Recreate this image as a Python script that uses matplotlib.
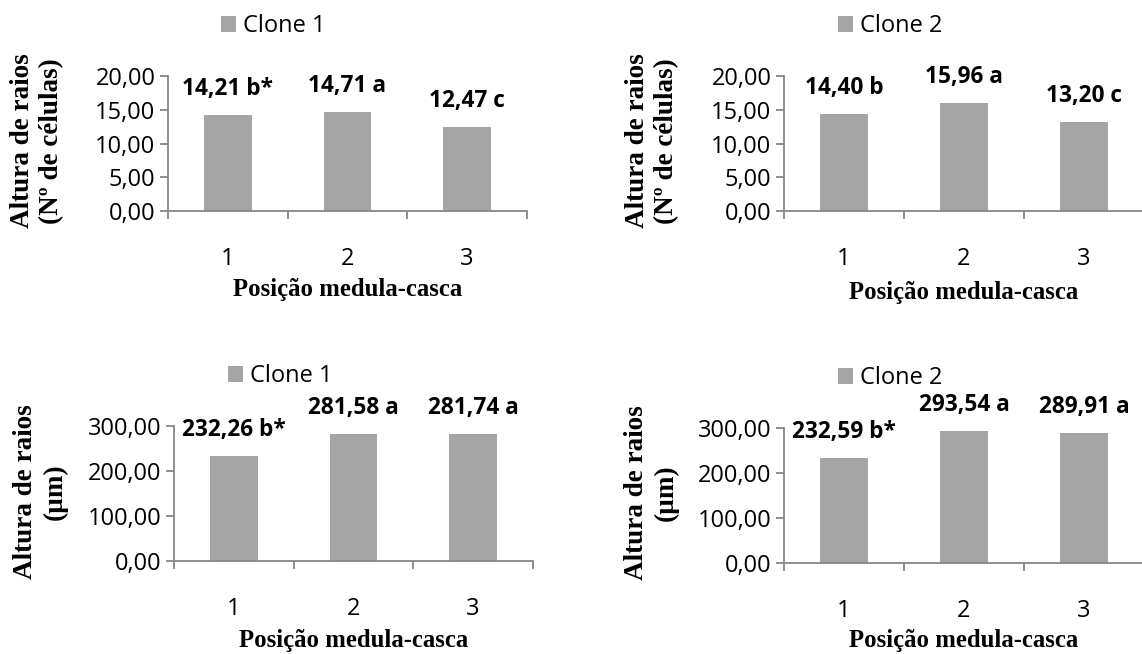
import matplotlib
matplotlib.use("Agg")
import matplotlib.pyplot as plt
from matplotlib.patches import Patch
import numpy as np

positions = ["1", "2", "3"]

cells_clone1 = [14.21, 14.71, 12.47]
cells_clone1_labels = ["14,21 b*", "14,71 a", "12,47 c"]
cells_clone2 = [14.40, 15.96, 13.20]
cells_clone2_labels = ["14,40 b", "15,96 a", "13,20 c"]

um_clone1 = [232.26, 281.58, 281.74]
um_clone1_labels = ["232,26 b*", "281,58 a", "281,74 a"]
um_clone2 = [232.59, 293.54, 289.91]
um_clone2_labels = ["232,59 b*", "293,54 a", "289,91 a"]

cells_ticks = [0, 5, 10, 15, 20]
cells_ticklabels = ["0,00", "5,00", "10,00", "15,00", "20,00"]
um_ticks = [0, 100, 200, 300]
um_ticklabels = ["0,00", "100,00", "200,00", "300,00"]

ylabel_cells = "Altura de raios\n(Nº de células)"
ylabel_um = "Altura de raios\n(µm)"
xlabel = "Posição medula-casca"

W, H = 1142, 654
fig = plt.figure(figsize=(W / 100, H / 100), dpi=100)

BAR = "#A5A5A5"
AXC = "#868686"
SANS = "Open Sans"
SERIF = "Liberation Serif"
TFS = 17
LFS = 16.3


def px(x, y):
    return x / W, 1 - y / H


panels = [
    dict(box=(168, 527, 76, 211), vals=cells_clone1, labs=cells_clone1_labels,
         ticks=cells_ticks, tl=cells_ticklabels, ymax=20, ylab=ylabel_cells,
         clone="Clone 1", leg=(221, 26), ylx=37, yly=141, xly=290),
    dict(box=(784, 1144, 76, 211), vals=cells_clone2, labs=cells_clone2_labels,
         ticks=cells_ticks, tl=cells_ticklabels, ymax=20, ylab=ylabel_cells,
         clone="Clone 2", leg=(838, 26), ylx=652, yly=141, xly=292),
    dict(box=(174, 533, 426, 561), vals=um_clone1, labs=um_clone1_labels,
         ticks=um_ticks, tl=um_ticklabels, ymax=300, ylab=ylabel_um,
         clone="Clone 1", leg=(228, 376), ylx=40, yly=492, xly=640),
    dict(box=(784, 1144, 428, 563), vals=um_clone2, labs=um_clone2_labels,
         ticks=um_ticks, tl=um_ticklabels, ymax=300, ylab=ylabel_um,
         clone="Clone 2", leg=(838, 378), ylx=651, yly=493, xly=641),
]

for p in panels:
    l, r, t, b = p["box"]
    ax = fig.add_axes([l / W, 1 - b / H, (r - l) / W, (b - t) / H])
    x = np.arange(1, len(positions) + 1)
    ax.bar(x, p["vals"], width=0.4, color=BAR, edgecolor="none", zorder=2)
    ax.set_xlim(0.5, 3.5)
    ax.set_ylim(0, p["ymax"])
    for xi, v, lab in zip(x, p["vals"], p["labs"]):
        ax.annotate(lab, (xi, v), xytext=(0, 26), textcoords="offset pixels",
                    ha="center", va="center", fontsize=LFS, fontweight="bold",
                    family=SANS, annotation_clip=False)
    for s in ["top", "right"]:
        ax.spines[s].set_visible(False)
    for s in ["left", "bottom"]:
        ax.spines[s].set_color(AXC)
        ax.spines[s].set_linewidth(1.3)
    ax.set_yticks(p["ticks"])
    ax.set_yticklabels(p["tl"], family=SANS, fontsize=TFS)
    ax.set_xticks([0.5, 1.5, 2.5, 3.5])
    ax.set_xticklabels([])
    ax.set_xticks(x, minor=True)
    ax.set_xticklabels(positions, minor=True, family=SANS, fontsize=TFS)
    ax.tick_params(axis="y", direction="out", length=6, width=1.3, color=AXC, pad=3)
    ax.tick_params(axis="x", which="major", direction="out", length=6, width=1.3, color=AXC)
    ax.tick_params(axis="x", which="minor", length=0, pad=26)
    ax.patch.set_alpha(0)

    lx, ly = px(*p["leg"])
    ax.legend(handles=[Patch(facecolor=BAR, edgecolor="none", label=p["clone"])],
              loc="center left", bbox_to_anchor=(lx, ly), bbox_transform=fig.transFigure,
              frameon=False, handlelength=0.65, handleheight=0.65, handletextpad=0.3,
              borderpad=0, borderaxespad=0, prop=dict(family=SANS, size=TFS))

    fx, fy = px(p["ylx"], p["yly"])
    fig.text(fx, fy, p["ylab"], rotation=90, ha="center", va="center",
             family=SERIF, fontweight="bold", fontsize=19.5, linespacing=1.25,
             multialignment="center")
    fx, fy = px((l + r) / 2, p["xly"])
    fig.text(fx, fy, xlabel, ha="center", va="center", family=SERIF,
             fontweight="bold", fontsize=17.8)

fig.savefig("out.png", dpi=100)
